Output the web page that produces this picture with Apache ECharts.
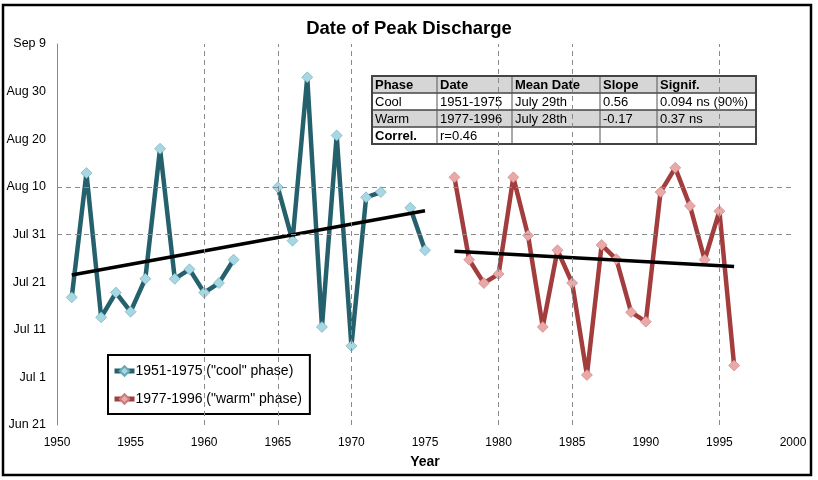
<!DOCTYPE html>
<html>
<head>
<meta charset="utf-8">
<script src="https://cdn.jsdelivr.net/npm/echarts@6/dist/echarts.min.js"></script>
<style>
  html, body { margin: 0; padding: 0; background: #fff; }
  #chart { width: 818px; height: 480px; }
</style>
</head>
<body>
<div id="chart"></div>
<script>
// y values are days counted from Jun 21
var yTickLabels = ["Jun 21", "Jul 1", "Jul 11", "Jul 21", "Jul 31", "Aug 10", "Aug 20", "Aug 30", "Sep 9"];

var coolYears = [1951, 1952, 1953, 1954, 1955, 1956, 1957, 1958, 1959, 1960, 1961, 1962, 1963,
  1964, 1965, 1966, 1967, 1968, 1969, 1970, 1971, 1972, 1973, 1974, 1975];
var coolDays = [26.8, 52.9, 22.6, 27.8, 23.8, 30.7, 58.0, 30.7, 32.7, 27.8, 29.8, 34.7, null,
  null, 49.9, 38.7, 73.0, 20.6, 60.8, 16.6, 47.8, 48.9, null, 45.6, 36.7];

var warmYears = [1977, 1978, 1979, 1980, 1981, 1982, 1983, 1984, 1985, 1986,
  1987, 1988, 1989, 1990, 1991, 1992, 1993, 1994, 1995, 1996];
var warmDays = [52.0, 34.7, 29.8, 31.7, 52.0, 39.8, 20.6, 36.7, 29.8, 10.5,
  37.8, 34.8, 23.7, 21.7, 48.9, 54.0, 46.0, 34.7, 44.9, 12.5];

// fitted trend lines (end points)
var coolTrend = [[1951, 31.5], [1975, 45.0]];
var warmTrend = [[1977, 36.5], [1996, 33.3]];

// dashed reference lines
var gridYears = [1960, 1965, 1970, 1980, 1985, 1995];
var gridDays = [40, 50];

var tableRows = [
  ["Phase", "Date", "Mean Date", "Slope", "Signif."],
  ["Cool", "1951-1975", "July 29th", "0.56", "0.094 ns (90%)"],
  ["Warm", "1977-1996", "July 28th", "-0.17", "0.37 ns"],
  ["Correl.", "r=0.46", "", "", ""]
];

var font = "'Liberation Sans', Arial, sans-serif";

function pairs(xs, ys) {
  return xs.map(function (x, i) { return [x, ys[i]]; });
}

function buildTable() {
  var colX = [372, 437, 512, 600, 657, 756];
  var top = 76, rowH = 17;
  var kids = [];
  tableRows.forEach(function (row, r) {
    var y = top + r * rowH;
    if (r === 0 || r === 2) {
      kids.push({ type: "rect", shape: { x: colX[0], y: y, width: colX[5] - colX[0], height: rowH },
        style: { fill: "#d6d6d6" } });
    }
    row.forEach(function (txt, c) {
      var bold = r === 0 || (c === 0 && r === 3);
      kids.push({ type: "text", x: colX[c] + 3, y: y + rowH / 2 + 1,
        style: { text: txt, fill: "#000", font: (bold ? "bold " : "") + "13px " + font,
          verticalAlign: "middle", align: "left" } });
    });
  });
  for (var r = 1; r < tableRows.length; r++) {
    kids.push({ type: "line", shape: { x1: colX[0], y1: top + r * rowH, x2: colX[5], y2: top + r * rowH },
      style: { stroke: "#444", lineWidth: 1.5 } });
  }
  for (var c = 1; c < colX.length - 1; c++) {
    kids.push({ type: "line", shape: { x1: colX[c], y1: top, x2: colX[c], y2: top + tableRows.length * rowH },
      style: { stroke: "#555", lineWidth: 1 } });
  }
  kids.push({ type: "rect", shape: { x: colX[0], y: top, width: colX[5] - colX[0], height: tableRows.length * rowH },
    style: { fill: "none", stroke: "#444", lineWidth: 2 } });
  return { type: "group", z: 50, children: kids };
}

var chart = echarts.init(document.getElementById("chart"));

chart.setOption({
  animation: false,
  backgroundColor: "#fff",
  title: {
    text: "Date of Peak Discharge",
    left: "center",
    top: 14,
    textStyle: { fontFamily: font, fontSize: 18.5, fontWeight: "bold", color: "#000" }
  },
  grid: { left: 57, right: 25, top: 44, bottom: 55 },
  legend: {
    orient: "vertical",
    left: 108,
    top: 355,
    data: ['1951-1975 ("cool" phase)', '1977-1996 ("warm" phase)'],
    backgroundColor: "#fff",
    borderColor: "#000",
    borderWidth: 2,
    padding: [9, 8, 8, 4],
    itemWidth: 20,
    itemHeight: 12,
    itemGap: 14,
    lineStyle: { width: 5 },
    textStyle: { fontFamily: font, fontSize: 14, color: "#000", padding: [0, 0, 0, -4] }
  },
  xAxis: {
    type: "value",
    min: 1950,
    max: 2000,
    interval: 5,
    name: "Year",
    nameLocation: "middle",
    nameGap: 30,
    nameTextStyle: { fontFamily: font, fontSize: 14, fontWeight: "bold", color: "#000" },
    axisLine: { show: false },
    axisTick: { show: false },
    splitLine: { show: false },
    axisLabel: {
      fontFamily: font, fontSize: 12, color: "#000", margin: 12,
      formatter: function (v) { return String(v); }
    }
  },
  yAxis: {
    type: "value",
    min: 0,
    max: 80,
    interval: 10,
    axisLine: { show: true, lineStyle: { color: "#888", width: 1 } },
    axisTick: { show: false },
    splitLine: { show: false },
    axisLabel: {
      fontFamily: font, fontSize: 12.5, color: "#000", margin: 11,
      formatter: function (v) { return yTickLabels[Math.round(v / 10)]; }
    }
  },
  graphic: [
    { type: "rect", z: 100, shape: { x: 3, y: 5, width: 808, height: 470 },
      style: { fill: "none", stroke: "#000", lineWidth: 2.5 } },
    buildTable()
  ],
  series: [
    {
      name: "grid",
      type: "line",
      data: [],
      silent: true,
      markLine: {
        silent: true,
        symbol: "none",
        label: { show: false },
        lineStyle: { color: "#8a8a8a", type: [5, 4], width: 1 },
        data: gridYears.map(function (y) { return { xAxis: y }; })
          .concat(gridDays.map(function (d) { return { yAxis: d }; }))
      }
    },
    {
      name: '1951-1975 ("cool" phase)',
      type: "line",
      data: pairs(coolYears, coolDays),
      connectNulls: false,
      z: 3,
      lineStyle: { color: "#24616d", width: 4.5 },
      itemStyle: { color: "#a6d7e2", borderColor: "#6aa7b4", borderWidth: 0.6 },
      symbol: "diamond",
      symbolSize: 11,
      showSymbol: true
    },
    {
      name: '1977-1996 ("warm" phase)',
      type: "line",
      data: pairs(warmYears, warmDays),
      z: 3,
      lineStyle: { color: "#a33c3c", width: 4.5 },
      itemStyle: { color: "#eaa9a9", borderColor: "#c77d7d", borderWidth: 0.6 },
      symbol: "diamond",
      symbolSize: 11,
      showSymbol: true
    },
    {
      name: "cool trend",
      type: "line",
      data: coolTrend,
      z: 4,
      symbol: "none",
      lineStyle: { color: "#000", width: 3.5 }
    },
    {
      name: "warm trend",
      type: "line",
      data: warmTrend,
      z: 4,
      symbol: "none",
      lineStyle: { color: "#000", width: 3.5 }
    }
  ]
});
</script>
</body>
</html>
